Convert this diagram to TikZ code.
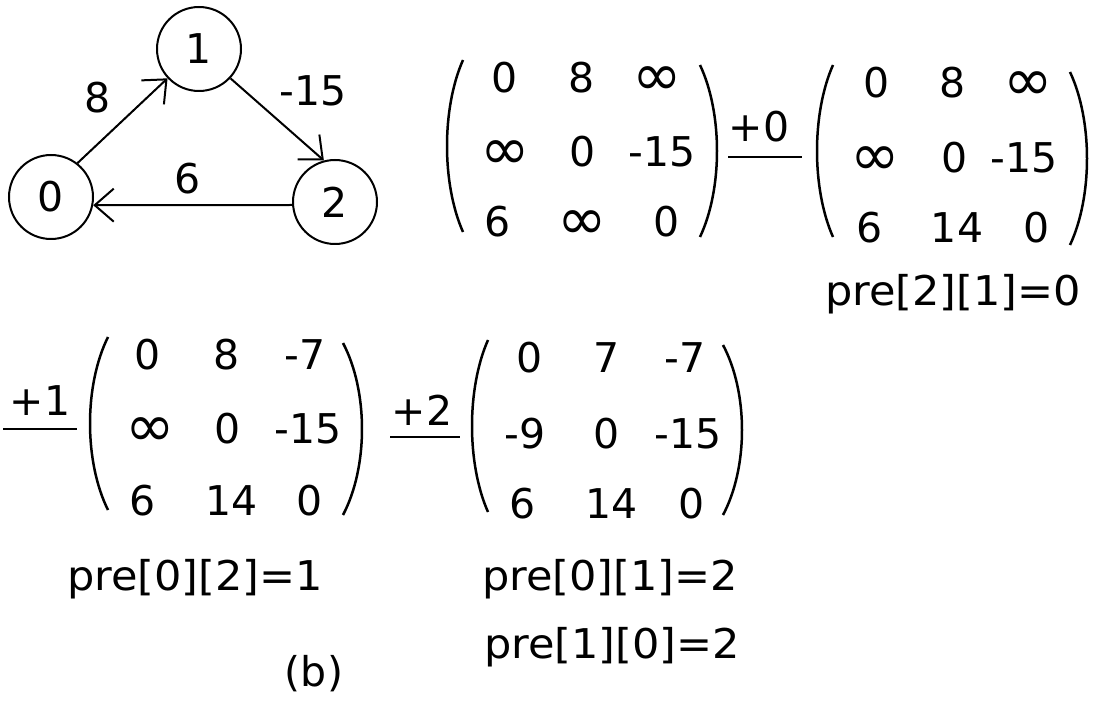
\documentclass[tikz,border=0pt]{standalone}
\usepackage{fontspec}
\setmainfont{DejaVu Sans}
\usetikzlibrary{arrows.meta}
\newcommand\myLP[4]{\draw[parline] (#2,#3) .. controls ({#2-1.333*(#2-#1)},{#3+0.28*(#4-#3)}) and ({#2-1.333*(#2-#1)},{#4-0.28*(#4-#3)}) .. (#2,#4);}
\newcommand\myRP[4]{\draw[parline] (#1,#3) .. controls ({#1+1.333*(#2-#1)},{#3+0.28*(#4-#3)}) and ({#1+1.333*(#2-#1)},{#4-0.28*(#4-#3)}) .. (#1,#4);}
\newcommand\myinf{\scalebox{1.45}{∞}}
\begin{document}
\begin{tikzpicture}[x=1pt,y=-1pt,
  font=\fontsize{41}{49}\selectfont,
  vtx/.style={draw,circle,line width=2pt,minimum size=84pt,inner sep=0pt},
  ent/.style={anchor=base,inner sep=0pt},
  infent/.style={anchor=base,inner sep=0pt,yshift=-3pt},
  prelbl/.style={anchor=base,inner sep=0pt,xscale=1.05,transform shape},
  lbl/.style={inner sep=0pt},
  edgeline/.style={line width=2pt,-{Straight Barb[length=19pt,width=33pt,line width=2pt]}},
  parline/.style={line width=2.5pt},
  barline/.style={line width=2.5pt}]
\fill[white] (0,0) rectangle (1106,703);
\useasboundingbox (0,0) rectangle (1106,703);

% graph
\node[vtx] (n0) at (51,197) {0};
\node[vtx] (n1) at (199,49) {1};
\node[vtx] (n2) at (335,202) {2};
\draw[edgeline] (n0.52) -- (n1.223);
\draw[edgeline] (n1.-43) -- (n2.105);
\draw[edgeline] (n2.184) -- (n0.-11);
\node[lbl] (w01) at (98,98) {8};
\node[lbl] (w12) at (313,91) {-15};
\node[lbl] (w20) at (188,179) {6};

% matrix 1
\myLP{447}{463}{60}{232}
\myRP{700}{717}{65}{237}
\node[ent] (a11) at (505,93) {0};
\node[ent] (a12) at (582,93) {8};
\node[infent] (a13) at (657,93) {\myinf};
\node[infent] (a21) at (505,167) {\myinf};
\node[ent] (a22) at (583,167) {0};
\node[ent] (a23) at (662,167) {-15};
\node[ent] (a31) at (498,237) {6};
\node[infent] (a32) at (582,237) {\myinf};
\node[ent] (a33) at (667,237) {0};

% step +0
\node[ent] (s0) at (759,142) {+0};
\draw[barline] (728,157) -- (802,157);

% matrix 2
\myLP{817}{833}{65}{237}
\myRP{1070}{1087}{72}{245}
\node[ent] (b11) at (877,98) {0};
\node[ent] (b12) at (953,98) {8};
\node[infent] (b13) at (1028,98) {\myinf};
\node[infent] (b21) at (875,173) {\myinf};
\node[ent] (b22) at (955,173) {0};
\node[ent] (b23) at (1024,173) {-15};
\node[ent] (b31) at (870,243) {6};
\node[ent] (b32) at (957,243) {14};
\node[ent] (b33) at (1037,243) {0};
\node[prelbl] (p1) at (953,306) {pre[2][1]=0};

% step +1
\node[ent] (s1) at (40,415) {+1};
\draw[barline] (3,429) -- (77,429);

% matrix 3
\myLP{90}{108}{337}{510}
\myRP{343}{362}{343}{515}
\node[ent] (c11) at (148,370) {0};
\node[ent] (c12) at (227,370) {8};
\node[ent] (c13) at (305,370) {-7};
\node[infent] (c21) at (150,443) {\myinf};
\node[ent] (c22) at (228,443) {0};
\node[ent] (c23) at (308,443) {-15};
\node[ent] (c31) at (143,515) {6};
\node[ent] (c32) at (232,515) {14};
\node[ent] (c33) at (310,515) {0};
\node[prelbl] (p2) at (195,590) {pre[0][2]=1};

% step +2
\node[ent] (s2) at (422,425) {+2};
\draw[barline] (390,437) -- (460,437);

% matrix 4
\myLP{472}{488}{340}{512}
\myRP{723}{742}{345}{515}
\node[ent] (d11) at (530,373) {0};
\node[ent] (d12) at (607,373) {7};
\node[ent] (d13) at (685,373) {-7};
\node[ent] (d21) at (525,448) {-9};
\node[ent] (d22) at (607,448) {0};
\node[ent] (d23) at (688,448) {-15};
\node[ent] (d31) at (523,518) {6};
\node[ent] (d32) at (612,518) {14};
\node[ent] (d33) at (692,518) {0};
\node[prelbl] (p3) at (610,590) {pre[0][1]=2};
\node[prelbl] (p4) at (612,658) {pre[1][0]=2};

\node[ent] (cap) at (314,686) {(b)};
\end{tikzpicture}
\end{document}
